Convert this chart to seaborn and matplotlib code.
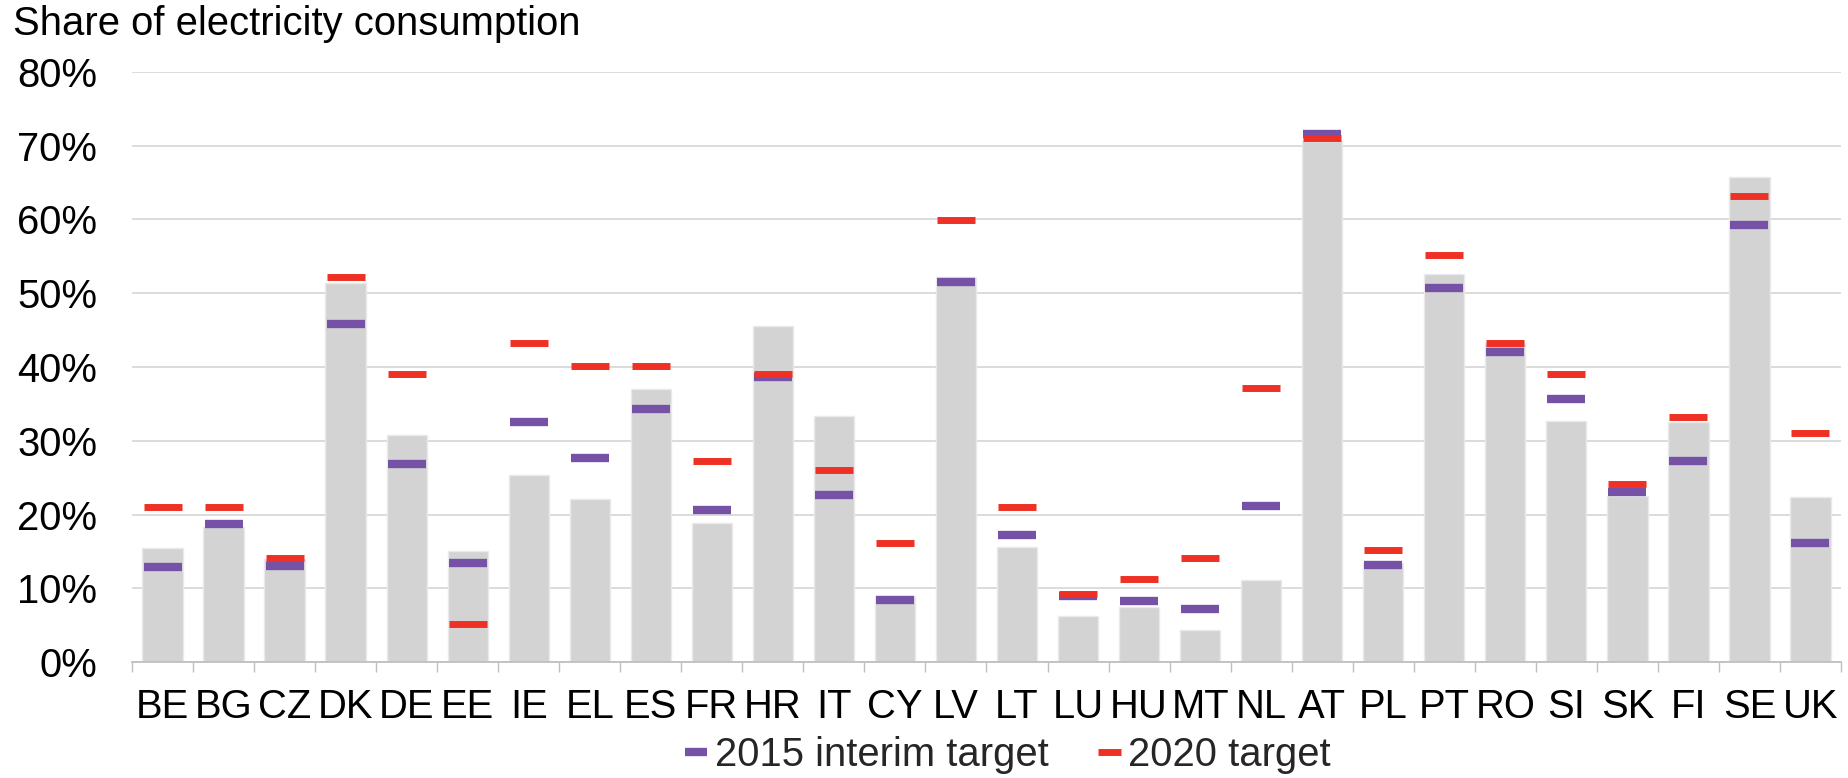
import matplotlib
matplotlib.use("Agg")
import matplotlib.pyplot as plt
from matplotlib.lines import Line2D
from matplotlib.ticker import PercentFormatter, FixedLocator
import numpy as np
import pandas as pd
import seaborn as sns

# Member states
countries = ["BE", "BG", "CZ", "DK", "DE", "EE", "IE", "EL", "ES", "FR",
             "HR", "IT", "CY", "LV", "LT", "LU", "HU", "MT", "NL", "AT",
             "PL", "PT", "RO", "SI", "SK", "FI", "SE", "UK"]

# Renewable share of electricity consumption (%)
share = [15.4, 18.3, 14.0, 51.4, 30.8, 15.1, 25.3, 22.1, 37.0, 18.8,
         45.5, 33.4, 8.9, 52.2, 15.6, 6.2, 7.4, 4.3, 11.1, 70.6,
         13.4, 52.6, 43.3, 32.7, 22.5, 32.5, 65.8, 22.4]

# 2015 interim target (%)
interim_2015 = [12.9, 18.7, 13.0, 45.8, 26.9, 13.4, 32.6, 27.7, 34.3, 20.6,
                38.6, 22.6, 8.4, 51.5, 17.2, 9.0, 8.3, 7.2, 21.2, 71.6,
                13.1, 50.7, 42.0, 35.6, 23.1, 27.2, 59.2, 16.2]

# 2020 target (%)
target_2020 = [21.0, 21.0, 14.1, 52.2, 39.1, 5.2, 43.2, 40.1, 40.1, 27.2,
               39.1, 26.1, 16.2, 59.9, 21.0, 9.2, 11.2, 14.1, 37.2, 71.1,
               15.2, 55.2, 43.2, 39.1, 24.1, 33.2, 63.2, 31.1]

series_labels = ["2015 interim target", "2020 target"]
yticks = [0, 10, 20, 30, 40, 50, 60, 70, 80]

BAR_GREY = "#D3D3D3"
PURPLE = "#7652A6"
RED = "#EE3124"
GRID = "#D9D9D9"
AXIS = "#BFBFBF"
FS = 28.8

df = pd.DataFrame({
    "country": countries,
    "share": share,
    "interim": interim_2015,
    "target": target_2020,
})

sns.set_theme(style="white")
plt.rcParams["font.family"] = ["Liberation Sans", "DejaVu Sans"]

fig = plt.figure(figsize=(18.49, 7.78), dpi=100)
ax = fig.add_axes([132 / 1849, 1 - 662 / 778, (1841 - 132) / 1849, (662 - 72) / 778])

sns.barplot(data=df, x="country", y="share", color=BAR_GREY, saturation=1,
            width=0.66, edgecolor="#EAEAEA", linewidth=1.0, errorbar=None,
            ax=ax, zorder=2)

sns.pointplot(data=df, x="country", y="interim", color=PURPLE, markers="_",
              linestyle="none", markersize=27.8, markeredgewidth=6.0,
              errorbar=None, ax=ax, zorder=3)
sns.pointplot(data=df, x="country", y="target", color=RED, markers="_",
              linestyle="none", markersize=27.6, markeredgewidth=5.0,
              errorbar=None, ax=ax, zorder=4)

n = len(countries)
ax.set_xlim(-0.5, n - 0.5)
ax.set_ylim(0, 80)
ax.set_yticks(yticks)
ax.yaxis.set_major_formatter(PercentFormatter(xmax=100, decimals=0))
ax.set_xlabel("")
ax.set_ylabel("")

ax.yaxis.grid(True, color=GRID, linewidth=1.3, zorder=0)
ax.xaxis.grid(False)
ax.set_axisbelow(True)

for side in ("left", "right", "top"):
    ax.spines[side].set_visible(False)
ax.spines["bottom"].set_color(AXIS)
ax.spines["bottom"].set_linewidth(1.3)

# Category separators below the axis
ax.xaxis.set_minor_locator(FixedLocator(np.arange(-0.5, n, 1.0)))
ax.tick_params(axis="x", which="major", length=0, pad=18.5, labelsize=FS,
               labelcolor="black")
ax.tick_params(axis="x", which="minor", length=7.5, width=1.0, color=AXIS,
               bottom=True)
ax.tick_params(axis="y", length=0, pad=25, labelsize=FS, labelcolor="black")

fig.text(13 / 1849, 1 - 35 / 778, "Share of electricity consumption",
         fontsize=FS, ha="left", va="baseline", color="black")

handles = [
    Line2D([], [], color=PURPLE, linewidth=6.0, solid_capstyle="butt"),
    Line2D([], [], color=RED, linewidth=5.0, solid_capstyle="butt"),
]
fig.legend(handles, series_labels, loc="center",
           bbox_to_anchor=(0.545, 1 - 755 / 778), ncol=2, frameon=False,
           fontsize=FS, handlelength=0.56, handletextpad=0.18,
           columnspacing=1.25, borderaxespad=0, borderpad=0)

fig.savefig("out.png", dpi=100)
